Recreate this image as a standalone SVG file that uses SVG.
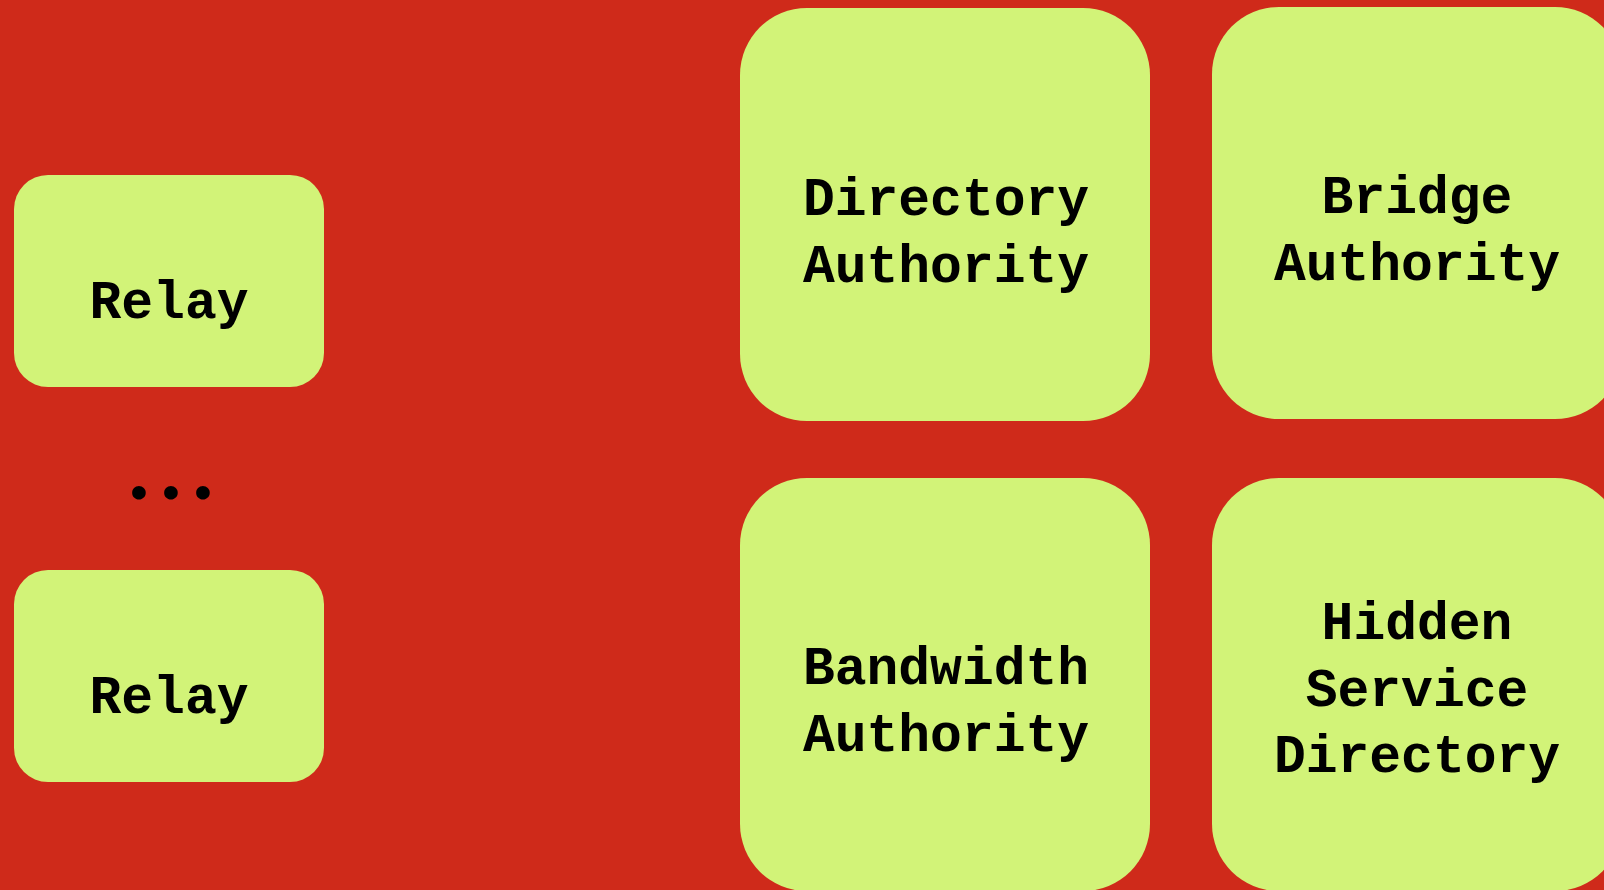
<svg xmlns="http://www.w3.org/2000/svg" width="1604" height="890" viewBox="0 0 1604 890">
  <style>
    .box { fill: #d2f378; }
    .lbl { font-family: "Liberation Mono", "DejaVu Sans Mono", monospace; font-weight: bold; font-size: 53px; fill: #000; text-anchor: middle; }
    .dots { font-family: Lato, "Noto Sans", sans-serif; font-size: 90px; }
  </style>
  <rect x="0" y="0" width="1604" height="890" fill="#cf2a1a"/>

  <g id="relay-1">
    <rect class="box" x="14" y="175" width="310" height="212" rx="34"/>
    <text class="lbl" x="169" y="318">Relay</text>
  </g>

  <!-- ellipsis between the relays; each dot placed on its own column -->
  <g id="ellipsis">
    <text class="lbl dots" x="139 171 203" y="499">...</text>
  </g>

  <g id="relay-2">
    <rect class="box" x="14" y="570" width="310" height="212" rx="34"/>
    <text class="lbl" x="169" y="713">Relay</text>
  </g>

  <g id="directory-authority">
    <rect class="box" x="740" y="8" width="410" height="413" rx="67"/>
    <text class="lbl" x="946" y="215">Directory</text>
    <text class="lbl" x="946" y="282">Authority</text>
  </g>

  <g id="bridge-authority">
    <rect class="box" x="1212" y="7" width="410" height="412" rx="67"/>
    <text class="lbl" x="1417" y="213">Bridge</text>
    <text class="lbl" x="1417" y="280">Authority</text>
  </g>

  <g id="bandwidth-authority">
    <rect class="box" x="740" y="478" width="410" height="413" rx="67"/>
    <text class="lbl" x="946" y="684">Bandwidth</text>
    <text class="lbl" x="946" y="751">Authority</text>
  </g>

  <g id="hidden-service-directory">
    <rect class="box" x="1212" y="478" width="410" height="413" rx="67"/>
    <text class="lbl" x="1417" y="639">Hidden</text>
    <text class="lbl" x="1417" y="706">Service</text>
    <text class="lbl" x="1417" y="772">Directory</text>
  </g>

  <g id="connectors"></g>
</svg>
